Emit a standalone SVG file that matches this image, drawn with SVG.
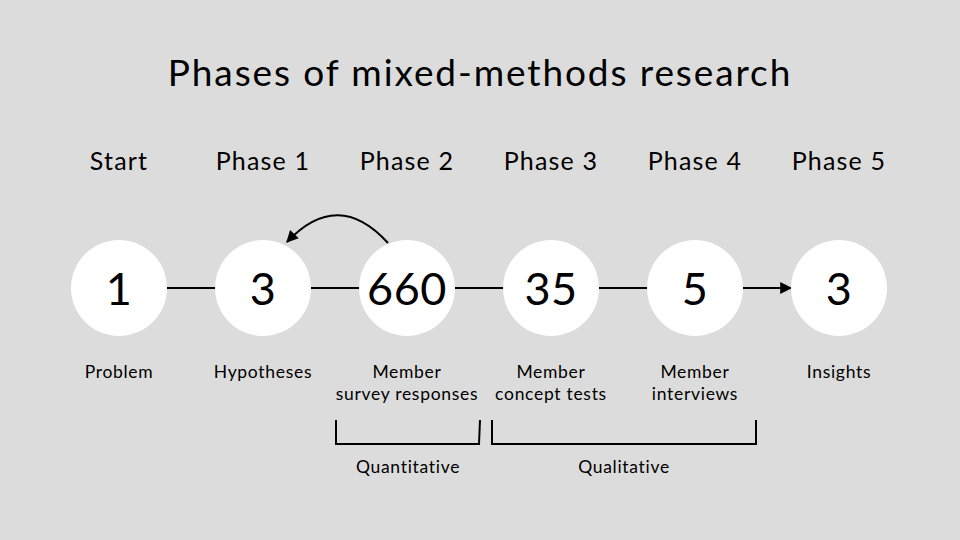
<svg xmlns="http://www.w3.org/2000/svg" width="960" height="540" viewBox="0 0 960 540">
<style>
text{font-family:Lato,"Noto Sans",sans-serif;fill:#000;text-anchor:middle}
.t{font-size:37px;letter-spacing:1.9px}
.p{font-size:25px;letter-spacing:1.2px}
.n{font-size:45px;letter-spacing:0.5px}
.l{font-size:17.5px;letter-spacing:0.7px}
.node circle{fill:#fff}
.c{stroke:#000;stroke-width:2;fill:none}
</style>
<defs>
<marker id="ah2" viewBox="0 0 10 10" refX="9" refY="5" markerWidth="14" markerHeight="12" orient="auto" markerUnits="userSpaceOnUse">
<path d="M0,0L10,5L0,10z" fill="#000"/>
</marker>
</defs>
<rect width="960" height="540" fill="#dcdcdc"/>
<text class="t" x="480" y="86">Phases of mixed-methods research</text>
<g id="phases" class="p">
<text x="119" y="170">Start</text>
<text x="263" y="170">Phase 1</text>
<text x="407" y="170">Phase 2</text>
<text x="551" y="170">Phase 3</text>
<text x="695" y="170">Phase 4</text>
<text x="839" y="170">Phase 5</text>
</g>
<g id="connectors">
<line class="c" x1="167" y1="288" x2="215" y2="288"/>
<line class="c" x1="311" y1="288" x2="359" y2="288"/>
<line class="c" x1="455" y1="288" x2="503" y2="288"/>
<line class="c" x1="599" y1="288" x2="647" y2="288"/>
<line class="c" x1="743" y1="288" x2="791" y2="288" marker-end="url(#ah2)"/>
<path class="c" d="M388,243 Q338,188 287,242" marker-end="url(#ah2)"/>
</g>
<g id="n1" class="node"><circle cx="119" cy="288" r="48"/><text class="n" x="119" y="305">1</text><text class="l" x="119" y="378">Problem</text></g>
<g id="n2" class="node"><circle cx="263" cy="288" r="48"/><text class="n" x="263" y="305">3</text><text class="l" x="263" y="378">Hypotheses</text></g>
<g id="n3" class="node"><circle cx="407" cy="288" r="48"/><text class="n" x="407" y="305">660</text><text class="l" x="407" y="378">Member</text><text class="l" x="407" y="400">survey responses</text></g>
<g id="n4" class="node"><circle cx="551" cy="288" r="48"/><text class="n" x="551" y="305">35</text><text class="l" x="551" y="378">Member</text><text class="l" x="551" y="400">concept tests</text></g>
<g id="n5" class="node"><circle cx="695" cy="288" r="48"/><text class="n" x="695" y="305">5</text><text class="l" x="695" y="378">Member</text><text class="l" x="695" y="400">interviews</text></g>
<g id="n6" class="node"><circle cx="839" cy="288" r="48"/><text class="n" x="839" y="305">3</text><text class="l" x="839" y="378">Insights</text></g>
<g id="brackets">
<path class="c" d="M336,420V444H479L480,420"/>
<path class="c" d="M492,420V444H756V420"/>
<text class="l" x="408" y="473">Quantitative</text>
<text class="l" x="624" y="473">Qualitative</text>
</g>
</svg>
